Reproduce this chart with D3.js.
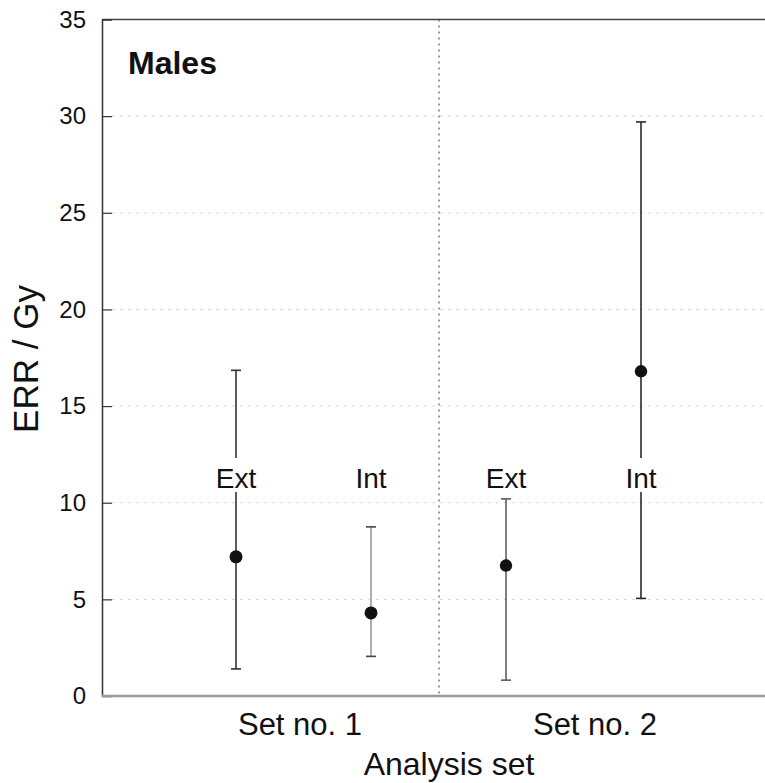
<!DOCTYPE html>
<html>
<head>
<meta charset="utf-8">
<script src="https://cdn.jsdelivr.net/npm/d3@7"></script>
<style>
  html, body { margin: 0; padding: 0; background: #fff; }
  svg { display: block; font-family: "Liberation Sans", Arial, Helvetica, sans-serif; }
</style>
</head>
<body>
<svg id="chart" width="765" height="783"></svg>
<script>
// ---- data ----
const categories = ["Set1-Ext", "Set1-Int", "Set2-Ext", "Set2-Int"];
const pointLabels = ["Ext", "Int", "Ext", "Int"];
const estimates = [7.2, 4.3, 6.75, 16.8];
const lowerCI   = [1.4, 2.05, 0.82, 5.05];
const upperCI   = [16.85, 8.75, 10.2, 29.7];
const setLabels = ["Set no. 1", "Set no. 2"];
const yTicks = [0, 5, 10, 15, 20, 25, 30, 35];
const lineColors = ["#333333", "#9a9a9a", "#5e5e5e", "#2a2a2a"];

(function () {
// ---- layout ----
const W = 765, H = 783;
const mLeft = 102, mTop = 19.5, mBottom = 696;
const svg = d3.select("#chart");

const y = d3.scaleLinear().domain([0, 35]).range([mBottom, mTop]);
const x = d3.scalePoint().domain(categories).range([101, 776]).padding(1);
const xSet = d3.scalePoint().domain(setLabels).range([300, 595]);

// gridlines
svg.append("g")
  .selectAll("line")
  .data(yTicks.filter(t => t > 0 && t < 35))
  .join("line")
  .attr("x1", mLeft + 10).attr("x2", W)
  .attr("y1", d => y(d)).attr("y2", d => y(d))
  .attr("stroke", "#d8d8d8").attr("stroke-width", 1)
  .attr("stroke-dasharray", "3,5");

// divider between sets
const divX = (x(categories[1]) + x(categories[2])) / 2 + 0.5;
svg.append("line")
  .attr("x1", divX).attr("x2", divX)
  .attr("y1", mTop).attr("y2", mBottom)
  .attr("stroke", "#555").attr("stroke-width", 1.2)
  .attr("stroke-dasharray", "2,4");

// top border
svg.append("line")
  .attr("x1", mLeft).attr("x2", W)
  .attr("y1", mTop).attr("y2", mTop)
  .attr("stroke", "#444").attr("stroke-width", 1.5);

// y axis
const yAxis = d3.axisLeft(y).tickValues(yTicks).tickSize(-10).tickPadding(16)
  .tickFormat(d3.format("d"));
const gy = svg.append("g").attr("transform", `translate(${mLeft},0)`).call(yAxis);
gy.select(".domain").attr("stroke", "#333").attr("stroke-width", 1.5);
gy.selectAll(".tick line").attr("stroke", "#333").attr("stroke-width", 1.2)
  .filter(d => d === 0 || d === 35).remove();
gy.selectAll(".tick text")
  .attr("font-size", 24).attr("fill", "#111")
  .attr("font-family", "Liberation Sans, Arial, sans-serif");

// bottom axis line
svg.append("line")
  .attr("x1", mLeft).attr("x2", W)
  .attr("y1", mBottom).attr("y2", mBottom)
  .attr("stroke", "#9a9a9a").attr("stroke-width", 2.5);

// error bars
const gErr = svg.append("g");
const capW = 5;
categories.forEach((c, i) => {
  const cx = x(c);
  const col = lineColors[i];
  gErr.append("line")
    .attr("x1", cx).attr("x2", cx)
    .attr("y1", y(lowerCI[i])).attr("y2", y(upperCI[i]))
    .attr("stroke", col).attr("stroke-width", 1.6);
  [lowerCI[i], upperCI[i]].forEach(v => {
    gErr.append("line")
      .attr("x1", cx - capW).attr("x2", cx + capW)
      .attr("y1", y(v)).attr("y2", y(v))
      .attr("stroke", i === 1 ? "#444" : col).attr("stroke-width", 1.6);
  });
});

// point labels with white background interrupting the bars
const labelY = y(10.76);
const gLab = svg.append("g");
categories.forEach((c, i) => {
  const cx = x(c);
  gLab.append("rect")
    .attr("x", cx - 24).attr("y", labelY - 30)
    .attr("width", 48).attr("height", 34)
    .attr("fill", "#fff");
  gLab.append("text")
    .attr("x", cx).attr("y", labelY)
    .attr("text-anchor", "middle")
    .attr("font-size", 28).attr("fill", "#111")
    .text(pointLabels[i]);
});

// points
svg.append("g").selectAll("circle")
  .data(categories)
  .join("circle")
  .attr("cx", d => x(d))
  .attr("cy", (d, i) => y(estimates[i]))
  .attr("r", (d, i) => i < 2 ? 6.5 : 6.2)
  .attr("fill", "#111");

// set labels
svg.append("g").selectAll("text")
  .data(setLabels)
  .join("text")
  .attr("x", d => xSet(d)).attr("y", 735)
  .attr("text-anchor", "middle")
  .attr("font-size", 31).attr("fill", "#111")
  .text(d => d);

// axis titles
svg.append("text")
  .attr("x", 449).attr("y", 775)
  .attr("text-anchor", "middle")
  .attr("font-size", 32).attr("fill", "#111")
  .text("Analysis set");

svg.append("text")
  .attr("transform", "translate(38,359) rotate(-90)")
  .attr("text-anchor", "middle")
  .attr("font-size", 35).attr("fill", "#111")
  .text("ERR / Gy");

// panel title
svg.append("text")
  .attr("x", 128).attr("y", 74)
  .attr("font-size", 32).attr("font-weight", "bold").attr("fill", "#111")
  .text("Males");
})();
</script>
</body>
</html>
